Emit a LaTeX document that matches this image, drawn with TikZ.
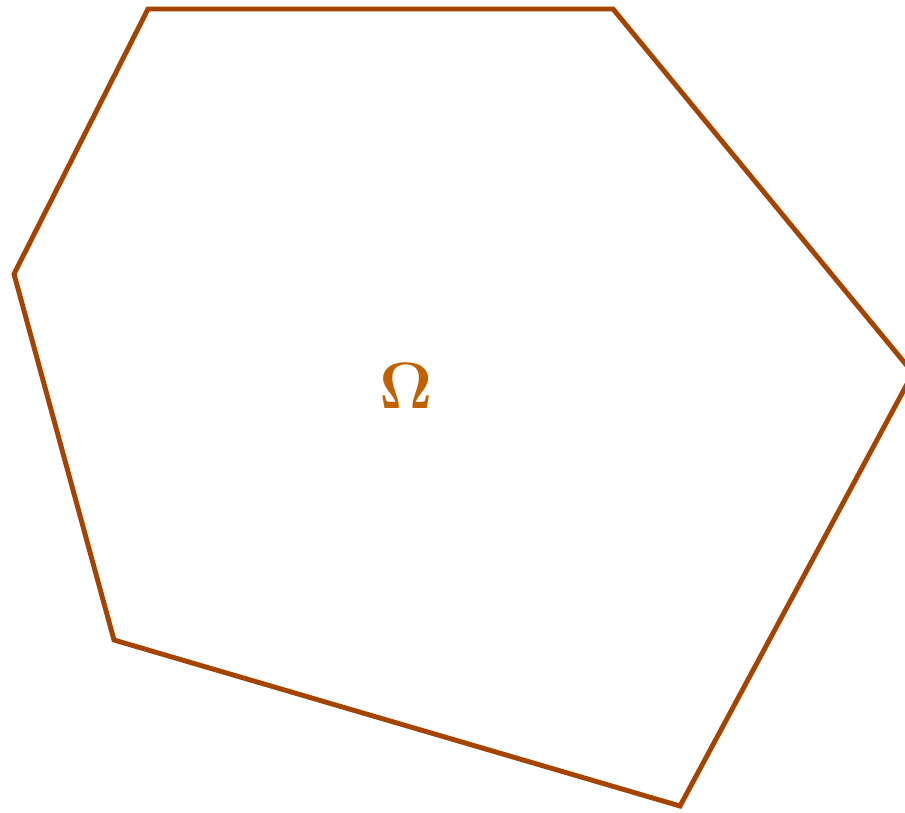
\documentclass[tikz,border=0pt]{standalone}
\usepackage{amsmath}
\usepackage{amssymb}
\usepackage{graphicx}
\usepackage{xcolor}
\usepackage{tikz}
\definecolor{domainbrown}{RGB}{165, 68, 0}
\definecolor{labelorange}{RGB}{192, 96, 0}
\tikzset{
  boundary/.style={draw=domainbrown, line width=2.8pt, line join=miter},
  domainlabel/.style={text=labelorange, inner sep=0pt, font=\Huge}
}

\begin{document}
\begin{tikzpicture}[x=0.02cm, y=-0.02cm]
\useasboundingbox (0,0) rectangle (905,812);
\coordinate (p1) at (148,9);
\coordinate (p2) at (613,9);
\coordinate (p3) at (913,373);
\coordinate (p4) at (680,806);
\coordinate (p5) at (114,640);
\coordinate (p6) at (14,274);

\draw[boundary] (p1) -- (p2) -- (p3) -- (p4) -- (p5) -- (p6) -- cycle;

\node (omega) [domainlabel] at (406,386) {\scalebox{1.5}{$\boldsymbol{\Omega}$}};
\end{tikzpicture}
\end{document}
